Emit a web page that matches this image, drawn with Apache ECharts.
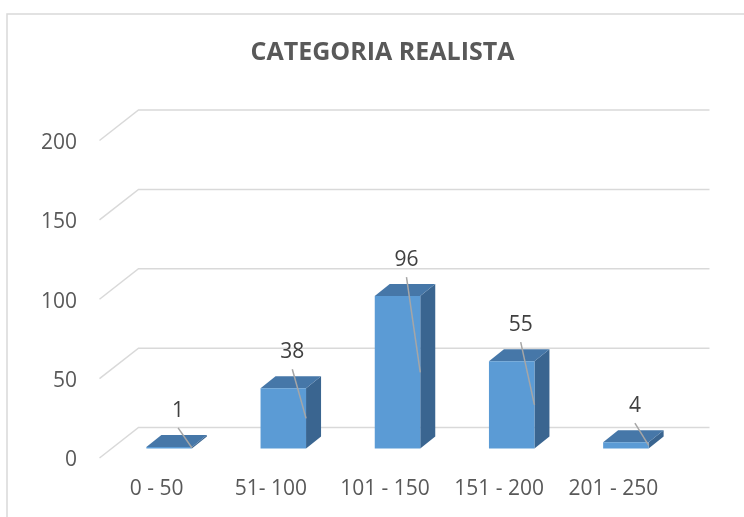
<!DOCTYPE html>
<html>
<head>
<meta charset="utf-8">
<script src="https://cdn.jsdelivr.net/npm/echarts@6/dist/echarts.min.js"></script>
<style>
  html, body { margin: 0; padding: 0; background: #fff; }
  #chart { width: 744px; height: 517px; }
</style>
</head>
<body>
<div id="chart"></div>
<script>
// data
const categories = ['0 - 50', '51- 100', '101 - 150', '151 - 200', '201 - 250'];
const counts = [1, 38, 96, 55, 4];
const yTicks = [0, 50, 100, 150, 200];

// fake 3d: offsets relative to the plane of the bar fronts
const FONT = 'Open Sans';
const BAR_DEPTH = [15, -12];
const FLOOR_FRONT = [-12.5, 9.5];
const BACK_WALL = [26.5, -21];
const BAR_W = 45.5;
const FRONT = '#5b9bd5', TOP = '#4677a8', SIDE = '#3a6590';

const chart = echarts.init(document.getElementById('chart'));

function renderGridLine(params, api) {
  const cs = params.coordSys;
  const y = api.coord([0, api.value(1)])[1];
  return {
    type: 'polyline',
    shape: {
      points: [
        [cs.x + FLOOR_FRONT[0], y + FLOOR_FRONT[1]],
        [cs.x + BACK_WALL[0], y + BACK_WALL[1]],
        [cs.x + cs.width + BACK_WALL[0], y + BACK_WALL[1]]
      ]
    },
    style: { stroke: '#d9d9d9', lineWidth: 1.5, fill: null }
  };
}

function renderBar(params, api) {
  const i = api.value(0), v = api.value(1);
  const top = api.coord([i, v]);
  const base = api.coord([i, 0]);
  const xl = top[0] - BAR_W / 2, xr = top[0] + BAR_W / 2;
  const yt = top[1], yb = base[1];
  const dx = BAR_DEPTH[0], dy = BAR_DEPTH[1];
  const lx = top[0] + 9, ly = yt - 36;
  return {
    type: 'group',
    children: [
      { type: 'polygon', shape: { points: [[xr, yt], [xr + dx, yt + dy], [xr + dx, yb + dy], [xr, yb]] }, style: { fill: SIDE } },
      { type: 'polygon', shape: { points: [[xl, yt], [xr, yt], [xr + dx, yt + dy], [xl + dx, yt + dy]] }, style: { fill: TOP } },
      { type: 'rect', shape: { x: xl, y: yt, width: BAR_W, height: Math.max(yb - yt, 1.5) }, style: { fill: FRONT } },
      { type: 'line', shape: { x1: lx, y1: ly + 17, x2: xr, y2: (yt + yb) / 2 }, style: { stroke: '#a6a6a6', lineWidth: 1.5 } },
      { type: 'text', x: lx, y: ly, style: { text: String(v), fill: '#404040', font: '21px "' + FONT + '"', align: 'center', verticalAlign: 'middle' } }
    ]
  };
}

chart.setOption({
  backgroundColor: '#fff',
  animation: false,
  graphic: [
    {
      type: 'rect',
      shape: { x: 7, y: 14, width: 780, height: 540 },
      style: { fill: null, stroke: '#d9d9d9', lineWidth: 1.5 },
      silent: true
    },
    {
      type: 'text',
      x: 382.5,
      y: 53,
      style: {
        text: 'CATEGORIA REALISTA',
        font: 'bold 25px "' + FONT + '"',
        fill: '#595959',
        align: 'center',
        verticalAlign: 'middle'
      }
    }
  ],
  grid: { left: 112, right: 61, top: 131, bottom: 68.5 },
  xAxis: {
    type: 'category',
    data: categories,
    axisLine: { show: false },
    axisTick: { show: false },
    axisLabel: {
      interval: 0,
      hideOverlap: false,
      margin: 30,
      padding: [0, 25, 0, 0],
      fontFamily: FONT,
      fontSize: 21,
      color: '#595959'
    }
  },
  yAxis: {
    type: 'value',
    min: 0,
    max: 200,
    interval: 50,
    splitLine: { show: false },
    axisLine: { show: false },
    axisTick: { show: false },
    axisLabel: { margin: 35, verticalAlign: 'top', lineHeight: 24, fontFamily: FONT, fontSize: 21, color: '#595959' }
  },
  series: [
    {
      type: 'custom',
      renderItem: renderGridLine,
      data: yTicks.map(v => [0, v]),
      z: 1,
      silent: true
    },
    {
      type: 'custom',
      renderItem: renderBar,
      data: counts.map((v, i) => [i, v]),
      z: 2
    }
  ]
});
</script>
</body>
</html>
